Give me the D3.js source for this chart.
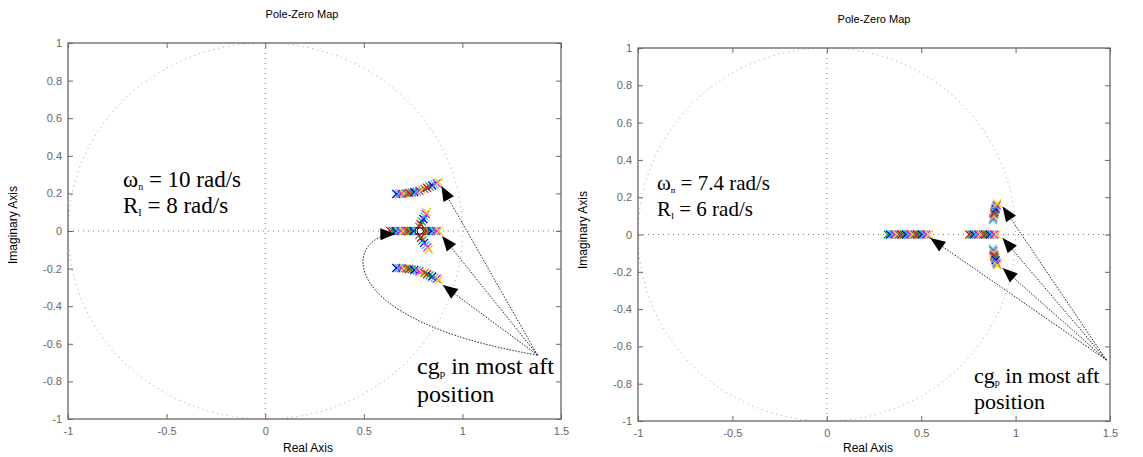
<!DOCTYPE html>
<html>
<head>
<meta charset="utf-8">
<script src="https://cdn.jsdelivr.net/npm/d3@7"></script>
<style>
  body { margin: 0; background: #fff; }
  svg { display: block; }
  .tick text { font-family: "Liberation Sans", Arial, sans-serif; font-size: 11px; fill: #666; }
  .tick line { stroke: #666; }
  .anno { font-family: "Liberation Serif", "Times New Roman", serif; fill: #000; }
</style>
</head>
<body>
<script>
var svgWidth = 1143;
var svgHeight = 457;

// tick values (both maps)
var xTicks = [-1, -0.5, 0, 0.5, 1, 1.5];
var yTicks = [-1, -0.8, -0.6, -0.4, -0.2, 0, 0.2, 0.4, 0.6, 0.8, 1];

// left map (wn = 10 rad/s) - pole loci, [real, imag]
var leftUpper = [[0.665,0.197],[0.678,0.197],[0.691,0.198],[0.704,0.199],[0.717,0.200],[0.730,0.202],
  [0.743,0.204],[0.756,0.207],[0.769,0.210],[0.782,0.214],[0.795,0.219],[0.808,0.224],[0.821,0.230],
  [0.834,0.236],[0.847,0.242],[0.859,0.248],[0.870,0.254],[0.880,0.259]];
var leftLower = [[0.665,-0.197],[0.678,-0.197],[0.691,-0.198],[0.704,-0.199],[0.717,-0.200],[0.730,-0.202],
  [0.743,-0.204],[0.756,-0.207],[0.769,-0.210],[0.782,-0.214],[0.795,-0.219],[0.808,-0.224],[0.821,-0.230],
  [0.834,-0.236],[0.847,-0.242],[0.859,-0.248],[0.870,-0.254],[0.880,-0.259]];
var leftReal = [[0.635,0],[0.648,0],[0.661,0],[0.674,0],[0.687,0],[0.700,0],[0.713,0],[0.726,0],[0.739,0],
  [0.752,0],[0.765,0],[0.778,0],[0.791,0],[0.804,0],[0.817,0],[0.830,0],[0.843,0],[0.856,0],[0.868,0],[0.880,0]];
var leftBranchUp = [[0.782,0.022],[0.788,0.036],[0.795,0.050],[0.802,0.064],[0.808,0.078],[0.814,0.090],[0.820,0.100]];
var leftBranchDown = [[0.782,-0.022],[0.790,-0.036],[0.798,-0.050],[0.806,-0.063],[0.814,-0.075],[0.822,-0.087],[0.829,-0.098]];
var leftZeros = [[0.776,0],[0.786,0]];
// arrows: [from, to] and one curved [p0, c1, c2, p3]
var leftArrows = [[[1.381,-0.660],[0.893,0.239]], [[1.381,-0.660],[0.897,-0.027]], [[1.381,-0.660],[0.900,-0.287]]];
var leftCurve = [[1.381,-0.660],[0.325,-0.473],[0.401,-0.021],[0.660,-0.016]];

// right map (wn = 7.4 rad/s)
var rightReal1 = [[0.323,0],[0.335,0],[0.347,0],[0.359,0],[0.371,0],[0.383,0],[0.395,0],[0.407,0],[0.419,0],
  [0.431,0],[0.443,0],[0.455,0],[0.467,0],[0.479,0],[0.491,0],[0.503,0],[0.515,0],[0.527,0],[0.540,0]];
var rightReal2 = [[0.755,0],[0.767,0],[0.779,0],[0.791,0],[0.803,0],[0.815,0],[0.827,0],[0.839,0],[0.851,0],
  [0.863,0],[0.875,0],[0.887,0],[0.899,0]];
var rightUpper = [[0.880,0.078],[0.882,0.088],[0.884,0.098],[0.886,0.108],[0.888,0.118],[0.891,0.128],
  [0.894,0.138],[0.897,0.148],[0.900,0.157],[0.904,0.166]];
var rightLower = [[0.880,-0.078],[0.882,-0.088],[0.884,-0.098],[0.886,-0.108],[0.888,-0.118],[0.891,-0.128],
  [0.894,-0.138],[0.897,-0.148],[0.900,-0.157],[0.904,-0.166]];
var rightArrows = [[[1.481,-0.673],[0.931,0.150]], [[1.481,-0.673],[0.931,-0.019]],
  [[1.481,-0.673],[0.931,-0.180]], [[1.481,-0.673],[0.548,-0.019]]];

// text
var titleText = "Pole-Zero Map";
var xLabelText = "Real Axis";
var yLabelText = "Imaginary Axis";
var leftNotes = [["ω", "n", " = 10 rad/s"], ["R", "I", " = 8 rad/s"]];
var rightNotes = [["ω", "n", " = 7.4 rad/s"], ["R", "I", " = 6 rad/s"]];
var cgNote = [["cg", "p", " in most aft"], ["position", "", ""]];

var markerColors = ["#e6d800", "#ff00ff", "#00d8e6", "#0000ff", "#00b000", "#ff0000", "#707070"];

var svg = d3.select("body").append("svg")
  .attr("width", svgWidth)
  .attr("height", svgHeight);

var panels = [
  { x0: 68, x1: 561, y0: 43, y1: 419, titleX: 302, titleY: 18, xLabX: 308, xLabY: 452, yLabX: 13, yLabY: 225,
    loci: [leftUpper, leftLower, leftReal, leftBranchUp, leftBranchDown], zeros: leftZeros,
    arrows: leftArrows, curve: leftCurve,
    notes: leftNotes, noteX: 123, noteY: 187, noteGap: 26, noteSize: 23,
    cgX: 417, cgY: 374, cgGap: 28, cgSize: 24 },
  { x0: 638, x1: 1110, y0: 48, y1: 421, titleX: 874, titleY: 23, xLabX: 868, xLabY: 452, yLabX: 583, yLabY: 230,
    loci: [rightReal1, rightReal2, rightUpper, rightLower], zeros: [],
    arrows: rightArrows, curve: null,
    notes: rightNotes, noteX: 657, noteY: 190, noteGap: 26, noteSize: 21,
    cgX: 974, cgY: 383, cgGap: 26, cgSize: 22 }
];

panels.forEach(drawPanel);

function drawPanel(p, idx) {
  var x = d3.scaleLinear().domain([-1, 1.5]).range([p.x0, p.x1]);
  var y = d3.scaleLinear().domain([-1, 1]).range([p.y1, p.y0]);
  var g = svg.append("g");

  // unit circle and zero lines
  g.append("ellipse")
    .attr("cx", x(0)).attr("cy", y(0))
    .attr("rx", x(1) - x(0)).attr("ry", y(0) - y(1))
    .attr("fill", "none").attr("stroke", "#999")
    .attr("stroke-width", 1).attr("stroke-dasharray", "1,4");
  g.append("line")
    .attr("x1", x(0)).attr("x2", x(0)).attr("y1", y(1)).attr("y2", y(-1))
    .attr("stroke", "#777").attr("stroke-dasharray", "1,4");
  g.append("line")
    .attr("x1", x(-1)).attr("x2", x(1.5)).attr("y1", y(0)).attr("y2", y(0))
    .attr("stroke", "#777").attr("stroke-dasharray", "1,4");

  // axes, ticks inward on all four sides
  var fmt = function (d) { return String(d); };
  g.append("g").attr("transform", "translate(0," + p.y1 + ")")
    .call(d3.axisBottom(x).tickValues(xTicks).tickFormat(fmt).tickSizeInner(-5).tickSizeOuter(0).tickPadding(8));
  g.append("g").attr("transform", "translate(" + p.x0 + ",0)")
    .call(d3.axisLeft(y).tickValues(yTicks).tickFormat(fmt).tickSizeInner(-5).tickSizeOuter(0).tickPadding(6));
  g.append("g").attr("transform", "translate(0," + p.y0 + ")")
    .call(d3.axisTop(x).tickValues(xTicks).tickFormat("").tickSizeInner(-5).tickSizeOuter(0));
  g.append("g").attr("transform", "translate(" + p.x1 + ",0)")
    .call(d3.axisRight(y).tickValues(yTicks).tickFormat("").tickSizeInner(-5).tickSizeOuter(0));
  g.selectAll(".domain").remove();
  g.append("rect")
    .attr("x", p.x0).attr("y", p.y0)
    .attr("width", p.x1 - p.x0).attr("height", p.y1 - p.y0)
    .attr("fill", "none").attr("stroke", "#666").attr("stroke-width", 1.3);

  // pole markers (x)
  var s = 4;
  p.loci.forEach(function (locus) {
    var n = locus.length;
    g.append("g").selectAll("path")
      .data(locus)
      .enter()
      .append("path")
      .attr("d", function (d) {
        var cx = x(d[0]), cy = y(d[1]);
        return "M" + (cx - s) + "," + (cy - s) + "L" + (cx + s) + "," + (cy + s) +
               "M" + (cx - s) + "," + (cy + s) + "L" + (cx + s) + "," + (cy - s);
      })
      .attr("stroke", function (d, i) { return markerColors[(n - 1 - i) % markerColors.length]; })
      .attr("stroke-width", 1.3)
      .attr("fill", "none");
  });

  g.append("g").selectAll("circle")
    .data(p.zeros)
    .enter()
    .append("circle")
    .attr("cx", d => x(d[0]))
    .attr("cy", d => y(d[1]))
    .attr("r", 3.2)
    .attr("fill", "#fff")
    .attr("stroke", "#000")
    .attr("stroke-width", 1);

  // arrows
  function head(tip, from) {
    var ang = Math.atan2(tip[1] - from[1], tip[0] - from[0]);
    var len = 15, w = 6;
    var bx = tip[0] - len * Math.cos(ang), by = tip[1] - len * Math.sin(ang);
    var px = -Math.sin(ang) * w, py = Math.cos(ang) * w;
    g.append("path")
      .attr("d", "M" + tip[0] + "," + tip[1] + "L" + (bx + px) + "," + (by + py) +
                 "L" + (bx - px) + "," + (by - py) + "Z")
      .attr("fill", "#000");
  }

  p.arrows.forEach(function (a) {
    var from = [x(a[0][0]), y(a[0][1])], to = [x(a[1][0]), y(a[1][1])];
    g.append("line")
      .attr("x1", from[0]).attr("y1", from[1]).attr("x2", to[0]).attr("y2", to[1])
      .attr("stroke", "#222").attr("stroke-width", 1).attr("stroke-dasharray", "1.5,1.5");
    head(to, from);
  });

  if (p.curve) {
    var c = p.curve.map(d => [x(d[0]), y(d[1])]);
    var path = d3.path();
    path.moveTo(c[0][0], c[0][1]);
    path.bezierCurveTo(c[1][0], c[1][1], c[2][0], c[2][1], c[3][0], c[3][1]);
    g.append("path")
      .attr("d", path.toString())
      .attr("fill", "none").attr("stroke", "#222").attr("stroke-width", 1).attr("stroke-dasharray", "1.5,1.5");
    head(c[3], c[2]);
  }

  // labels
  g.append("text")
    .attr("x", p.titleX).attr("y", p.titleY)
    .attr("text-anchor", "middle")
    .attr("font-family", "Liberation Sans, Arial, sans-serif").attr("font-size", "11px")
    .text(titleText);
  g.append("text")
    .attr("x", p.xLabX).attr("y", p.xLabY)
    .attr("text-anchor", "middle")
    .attr("font-family", "Liberation Sans, Arial, sans-serif").attr("font-size", "12px")
    .text(xLabelText);
  g.append("text")
    .attr("transform", "translate(" + p.yLabX + "," + p.yLabY + ") rotate(-90)")
    .attr("text-anchor", "middle")
    .attr("dy", "0.35em")
    .attr("font-family", "Liberation Sans, Arial, sans-serif").attr("font-size", "12px")
    .text(yLabelText);

  function note(lines, nx, ny, gap, size) {
    lines.forEach(function (ln, i) {
      var t = g.append("text").attr("class", "anno")
        .attr("x", nx).attr("y", ny + i * gap)
        .attr("font-size", size + "px");
      t.append("tspan").text(ln[0]);
      if (ln[1]) {
        t.append("tspan").attr("font-size", Math.round(size * 0.45) + "px").attr("dy", 3).text(ln[1]);
        t.append("tspan").attr("dy", -3).text(ln[2]);
      }
    });
  }
  note(p.notes, p.noteX, p.noteY, p.noteGap, p.noteSize);
  note(cgNote, p.cgX, p.cgY, p.cgGap, p.cgSize);
}
</script>
</body>
</html>
